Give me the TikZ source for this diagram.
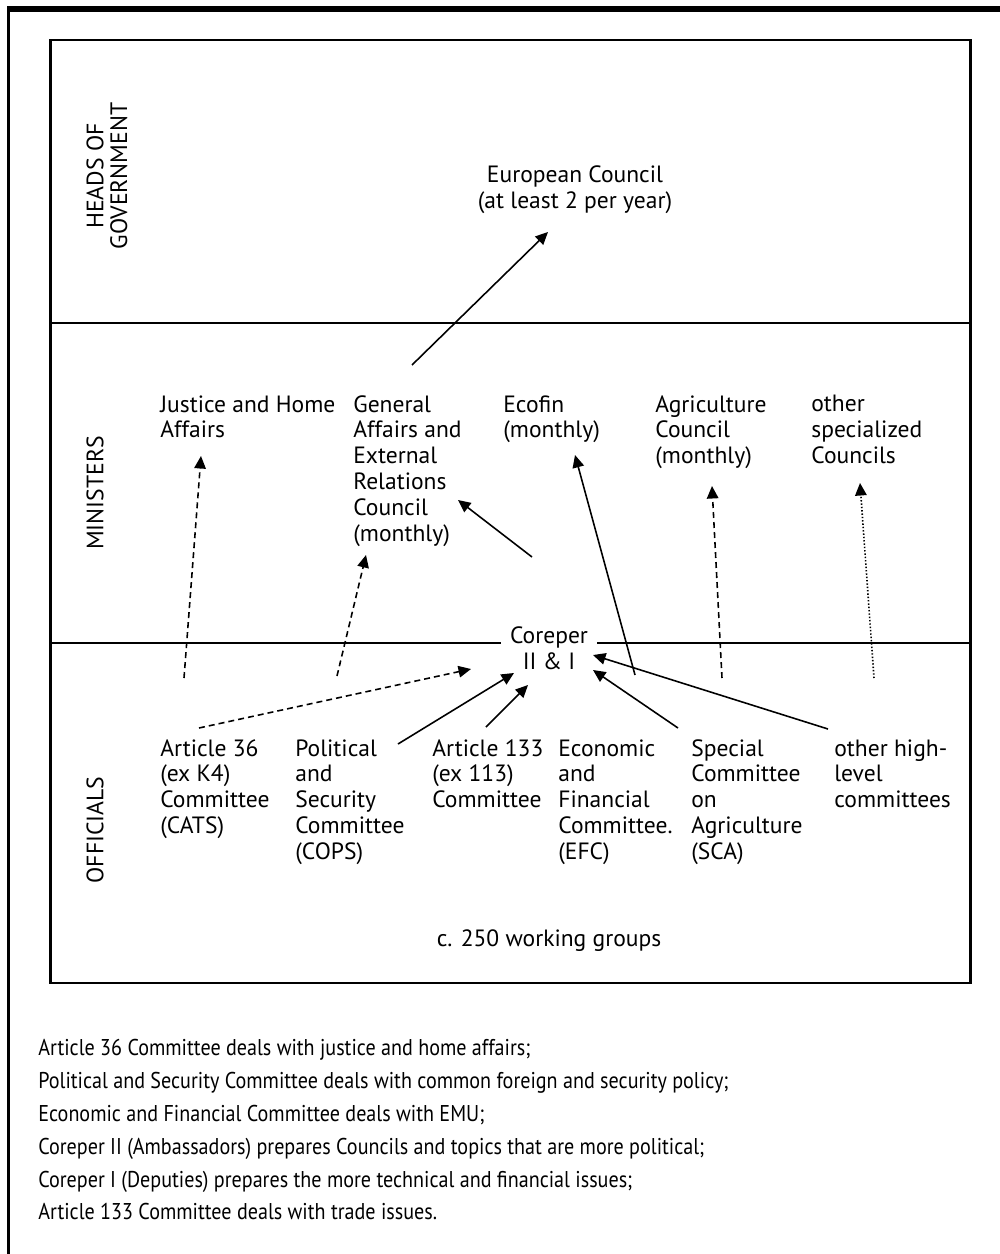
\documentclass[tikz,border=0pt]{standalone}
\usepackage{fontspec}
\setmainfont{PT Sans}
\newfontfamily\notefont[FakeStretch=0.88]{PT Sans}
\usetikzlibrary{arrows.meta,calc}

\tikzset{
	frame/.style = {line width=1.4pt},
	lbl/.style = {
		anchor=north west,
		align=left,
		inner sep=0pt,
		font=\fontsize{13.4}{14.7}\selectfont
	},
	ctr/.style = {
		align=center,
		inner sep=0pt,
		font=\fontsize{13.4}{14.7}\selectfont
	},
	rowlbl/.style = {ctr, rotate=90, font=\fontsize{13.5}{13.6}\selectfont},
	core/.style = {ctr, fill=white, inner xsep=5pt, inner ysep=1pt},
	link/.style = {-{Triangle[length=2.5mm,width=2.3mm]}, line width=0.9pt},
	dashlink/.style = {link, dash pattern=on 3.4pt off 2.3pt},
	dotlink/.style = {link, dash pattern=on 0.8pt off 1.1pt}
}

\begin{document}
\begin{tikzpicture}[x=0.02cm, y=-0.02cm]
	\useasboundingbox (0,0) rectangle (1000,1254);
	% page frame
	\draw[line width=3.4pt] (7,9) -- (1000,9);
	\draw[line width=1.7pt] (8.5,7) -- (8.5,1254);
	% the three levels
	\draw[frame] (50.5,40) rectangle (970.5,983);
	\draw[frame] (50.5,323) -- (970.5,323);
	\draw[frame] (50.5,643) -- (970.5,643);

	\node[rowlbl] (heads) at (107,176) {HEADS OF\\GOVERNMENT};
	\node[rowlbl] (mins) at (95,493) {MINISTERS};
	\node[rowlbl] (offs) at (95,830) {OFFICIALS};

	% heads of government
	\node[ctr] (eurco) at (575,190) {European Council\\(at least 2 per year)};

	% ministers
	\node[lbl] (jha) at (160,395) {Justice and Home\\Affairs};
	\node[lbl] (gaerc) at (353,395) {General\\Affairs and\\External\\Relations\\Council\\(monthly)};
	\node[lbl] (ecofin) at (503,395) {Ecofin\\(monthly)};
	\node[lbl] (agri) at (655,395) {Agriculture\\Council\\(monthly)};
	\node[lbl] (othcou) at (811,395) {other\\specialized\\Councils};

	% officials
	\node[core] (coreper) at (549,648) {Coreper\\II \& I};
	\node[lbl] (art36) at (160,739) {Article 36\\(ex K4)\\Committee\\(CATS)};
	\node[lbl] (cops) at (295,739) {Political\\and\\Security\\Committee\\(COPS)};
	\node[lbl] (art133) at (432,739) {Article 133\\(ex 113)\\Committee};
	\node[lbl] (efc) at (558,739) {Economic\\and\\Financial\\Committee.\\(EFC)};
	\node[lbl] (sca) at (691,739) {Special\\Committee\\on\\Agriculture\\(SCA)};
	\node[lbl] (othcom) at (834,739) {other high-\\level\\committees};
	\node[ctr] (wg) at (549,941) {c. 250 working groups};

	% notes below the box
	\node[anchor=north west, align=left, inner sep=0pt,
		font=\notefont\fontsize{13}{18.7}\selectfont] (notes) at (38,1039) {
		Article 36 Committee deals with justice and home affairs;\\
		Political and Security Committee deals with common foreign and security policy;\\
		Economic and Financial Committee deals with EMU;\\
		Coreper II (Ambassadors) prepares Councils and topics that are more political;\\
		Coreper I (Deputies) prepares the more technical and financial issues;\\
		Article 133 Committee deals with trade issues.
	};

	% loose ends in the officials row
	\coordinate (jha-src) at (184,678);
	\coordinate (gaerc-src) at (337,676);
	\coordinate (agri-src) at (722,678);
	\coordinate (othcou-src) at (874,678);

	\draw[link] ($(gaerc.north west)+(59,-30)$) -- ($(eurco)+(-27,42)$);
	\draw[dashlink] (jha-src) -- ($(jha.north west)+(41,61)$);
	\draw[dashlink] (gaerc-src) -- ($(gaerc.north west)+(13,160)$);
	\draw[link] ($(coreper)+(-17,-91)$) -- ($(gaerc.north west)+(105,105)$);
	\draw[link] ($(coreper)+(86,27)$) -- ($(ecofin.north west)+(72,60)$);
	\draw[dashlink] (agri-src) -- ($(agri.north west)+(57,91)$);
	\draw[dotlink] (othcou-src) -- ($(othcou.north west)+(49,88)$);

	\draw[dashlink] ($(art36.north west)+(39,-11)$) -- ($(coreper)+(-78,21)$);
	\draw[link] ($(cops.north west)+(103,5)$) -- ($(coreper)+(-35,25)$);
	\draw[link] ($(art133.north west)+(54,-12)$) -- ($(coreper)+(-21,37)$);
	\draw[link] ($(efc.north west)+(120,-11)$) -- ($(coreper)+(44,22)$);
	\draw[link] ($(othcom.north west)+(-6,-10)$) -- ($(coreper)+(44,7)$);
\end{tikzpicture}
\end{document}
